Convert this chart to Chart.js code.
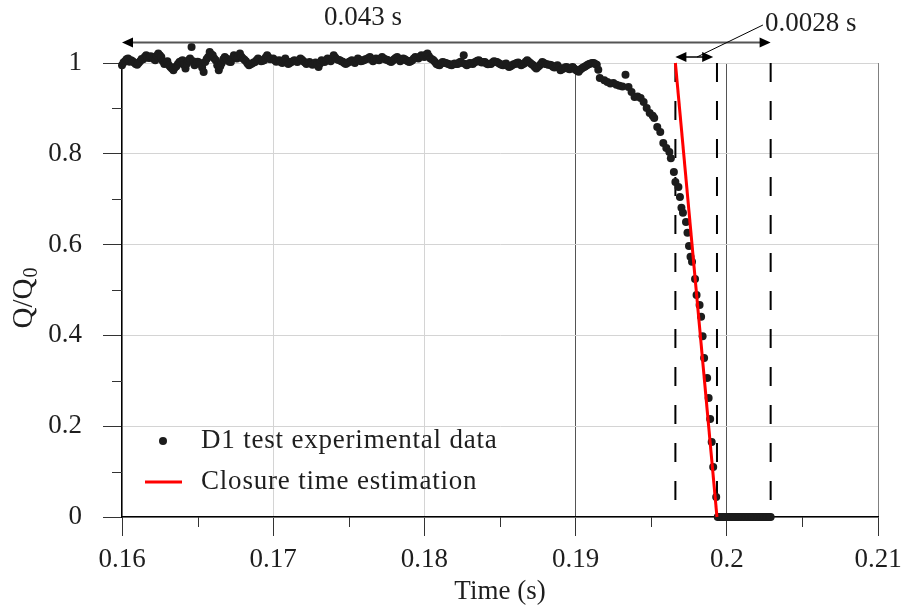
<!DOCTYPE html>
<html>
<head>
<meta charset="utf-8">
<script src="https://cdn.jsdelivr.net/npm/chart.js@4.4.0/dist/chart.umd.min.js"></script>
<style>
  html, body { margin: 0; padding: 0; background: #fff; }
</style>
</head>
<body>
<canvas id="closure" width="903" height="610"></canvas>
<script>
// D1 test: measured flow ratio Q/Q0 against time (s)
const timeS = [
  0.1600, 0.1601, 0.1602, 0.1603, 0.1604, 0.1605, 0.1606, 0.1607, 0.1608, 0.1609,
  0.1610, 0.1611, 0.1612, 0.1613, 0.1614, 0.1615, 0.1616, 0.1617, 0.1618, 0.1619,
  0.1620, 0.1621, 0.1622, 0.1623, 0.1624, 0.1625, 0.1626, 0.1627, 0.1628, 0.1629,
  0.1630, 0.1631, 0.1632, 0.1633, 0.1634, 0.1635, 0.1636, 0.1637, 0.1638, 0.1639,
  0.1640, 0.1641, 0.1642, 0.1643, 0.1644, 0.1645, 0.1646, 0.1647, 0.1648, 0.1649,
  0.1650, 0.1651, 0.1652, 0.1653, 0.1654, 0.1655, 0.1656, 0.1657, 0.1658, 0.1659,
  0.1660, 0.1661, 0.1662, 0.1663, 0.1664, 0.1665, 0.1666, 0.1667, 0.1668, 0.1669,
  0.1670, 0.1671, 0.1672, 0.1673, 0.1674, 0.1675, 0.1676, 0.1677, 0.1678, 0.1679,
  0.1680, 0.1681, 0.1682, 0.1683, 0.1684, 0.1685, 0.1686, 0.1687, 0.1688, 0.1689,
  0.1690, 0.1691, 0.1692, 0.1693, 0.1694, 0.1695, 0.1696, 0.1697, 0.1698, 0.1699,
  0.1700, 0.1701, 0.1702, 0.1703, 0.1704, 0.1705, 0.1706, 0.1707, 0.1708, 0.1709,
  0.1710, 0.1711, 0.1712, 0.1713, 0.1714, 0.1715, 0.1716, 0.1717, 0.1718, 0.1719,
  0.1720, 0.1721, 0.1722, 0.1723, 0.1724, 0.1725, 0.1726, 0.1727, 0.1728, 0.1729,
  0.1730, 0.1731, 0.1732, 0.1733, 0.1734, 0.1735, 0.1736, 0.1737, 0.1738, 0.1739,
  0.1740, 0.1741, 0.1742, 0.1743, 0.1744, 0.1745, 0.1746, 0.1747, 0.1748, 0.1749,
  0.1750, 0.1751, 0.1752, 0.1753, 0.1754, 0.1755, 0.1756, 0.1757, 0.1758, 0.1759,
  0.1760, 0.1761, 0.1762, 0.1763, 0.1764, 0.1765, 0.1766, 0.1767, 0.1768, 0.1769,
  0.1770, 0.1771, 0.1772, 0.1773, 0.1774, 0.1775, 0.1776, 0.1777, 0.1778, 0.1779,
  0.1780, 0.1781, 0.1782, 0.1783, 0.1784, 0.1785, 0.1786, 0.1787, 0.1788, 0.1789,
  0.1790, 0.1791, 0.1792, 0.1793, 0.1794, 0.1795, 0.1796, 0.1797, 0.1798, 0.1799,
  0.1800, 0.1801, 0.1802, 0.1803, 0.1804, 0.1805, 0.1806, 0.1807, 0.1808, 0.1809,
  0.1810, 0.1811, 0.1812, 0.1813, 0.1814, 0.1815, 0.1816, 0.1817, 0.1818, 0.1819,
  0.1820, 0.1821, 0.1822, 0.1823, 0.1824, 0.1825, 0.1826, 0.1827, 0.1828, 0.1829,
  0.1830, 0.1831, 0.1832, 0.1833, 0.1834, 0.1835, 0.1836, 0.1837, 0.1838, 0.1839,
  0.1840, 0.1841, 0.1842, 0.1843, 0.1844, 0.1845, 0.1846, 0.1847, 0.1848, 0.1849,
  0.1850, 0.1851, 0.1852, 0.1853, 0.1854, 0.1855, 0.1856, 0.1857, 0.1858, 0.1859,
  0.1860, 0.1861, 0.1862, 0.1863, 0.1864, 0.1865, 0.1866, 0.1867, 0.1868, 0.1869,
  0.1870, 0.1871, 0.1872, 0.1873, 0.1874, 0.1875, 0.1876, 0.1877, 0.1878, 0.1879,
  0.1880, 0.1881, 0.1882, 0.1883, 0.1884, 0.1885, 0.1886, 0.1887, 0.1888, 0.1889,
  0.1890, 0.1891, 0.1892, 0.1893, 0.1894, 0.1895, 0.1896, 0.1897, 0.1898, 0.1899,
  0.1900, 0.1901, 0.1902, 0.1903, 0.1904, 0.1905, 0.1906, 0.1907, 0.1908, 0.1909,
  0.1910, 0.1911, 0.1912, 0.1913, 0.1914,
  // valve closing
  0.1915, 0.1916, 0.1919, 0.1921, 0.1923, 0.1925, 0.1927, 0.1929, 0.1931, 0.1933,
  0.1935, 0.1937, 0.1939, 0.1941, 0.1943, 0.1945, 0.1947, 0.1949, 0.1951, 0.1952,
  0.1954, 0.1956, 0.1958, 0.1960, 0.1962, 0.1963, 0.1965, 0.1966, 0.1968, 0.1969,
  0.1970, 0.1971, 0.1973, 0.1974, 0.1975, 0.1976, 0.1977, 0.1979, 0.1980, 0.1982,
  0.1983, 0.1984, 0.1985, 0.1987, 0.1988, 0.1989, 0.1990, 0.1991, 0.1993, 0.1994,
  // closed
  0.1995, 0.1996, 0.1997, 0.1998, 0.1999, 0.2000, 0.2001, 0.2002, 0.2003, 0.2004,
  0.2005, 0.2006, 0.2007, 0.2008, 0.2009, 0.2010, 0.2011, 0.2012, 0.2013, 0.2014,
  0.2015, 0.2016, 0.2017, 0.2018, 0.2019, 0.2020, 0.2021, 0.2022, 0.2023, 0.2024,
  0.2025, 0.2026, 0.2027, 0.2028, 0.2029
]
const flowRatio = [
  0.995, 1.001, 1.004, 1.008, 1.010, 1.003, 1.006, 1.004, 1.001, 0.998,
  0.996, 1.000, 1.004, 1.009, 1.008, 1.013, 1.017, 1.012, 1.011, 1.015,
  1.013, 1.009, 1.006, 1.016, 1.021, 1.017, 1.013, 1.004, 0.998, 1.001,
  1.004, 0.995, 0.991, 0.988, 0.984, 0.990, 0.993, 0.998, 1.002, 1.004,
  1.006, 0.996, 0.988, 0.999, 1.006, 1.010, 1.035, 1.004, 0.995, 1.000,
  1.003, 1.001, 0.998, 0.990, 0.980, 1.002, 1.009, 1.013, 1.024, 1.019,
  1.017, 1.010, 1.006, 0.995, 0.984, 0.993, 1.000, 1.008, 1.013, 1.010,
  1.006, 1.003, 1.002, 1.010, 1.017, 1.013, 1.010, 1.016, 1.021, 1.014,
  1.010, 1.007, 1.004, 0.999, 0.995, 0.997, 0.999, 1.001, 1.002, 1.006,
  1.010, 1.007, 1.004, 1.005, 1.006, 1.012, 1.017, 1.012, 1.008, 1.009,
  1.010, 1.006, 1.003, 1.005, 1.006, 1.002, 1.000, 1.005, 1.010, 1.004,
  0.998, 1.000, 1.002, 1.004, 1.006, 1.004, 1.002, 1.006, 1.010, 1.007,
  1.004, 1.001, 0.998, 1.000, 1.002, 0.999, 0.996, 0.998, 1.001, 0.996,
  0.991, 0.999, 1.006, 1.004, 1.002, 1.006, 1.010, 1.007, 1.004, 1.010,
  1.017, 1.012, 1.008, 1.007, 1.006, 1.004, 1.003, 1.000, 0.998, 1.000,
  1.002, 1.004, 1.006, 1.003, 1.000, 1.005, 1.010, 1.007, 1.004, 1.005,
  1.006, 1.008, 1.009, 1.011, 1.013, 1.008, 1.004, 1.007, 1.010, 1.008,
  1.006, 1.010, 1.013, 1.010, 1.008, 1.007, 1.006, 1.004, 1.002, 1.005,
  1.008, 1.011, 1.013, 1.008, 1.004, 1.007, 1.010, 1.008, 1.006, 1.004,
  1.002, 1.004, 1.006, 1.010, 1.013, 1.011, 1.010, 1.014, 1.017, 1.015,
  1.013, 1.018, 1.021, 1.015, 1.010, 1.008, 1.006, 1.002, 0.998, 0.996,
  0.995, 0.999, 1.002, 1.001, 1.000, 0.999, 0.998, 0.996, 0.995, 0.997,
  0.999, 0.998, 0.998, 1.001, 1.003, 1.000, 1.017, 0.998, 0.995, 0.997,
  1.000, 0.999, 0.998, 1.001, 1.003, 1.005, 1.006, 1.003, 1.001, 1.002,
  1.002, 0.999, 0.997, 0.998, 0.998, 1.001, 1.004, 1.003, 1.002, 1.000,
  0.998, 0.996, 0.995, 0.997, 0.999, 0.994, 0.991, 0.993, 0.995, 0.997,
  0.998, 1.000, 1.001, 0.998, 0.995, 0.997, 0.999, 1.003, 1.006, 1.003,
  1.000, 0.997, 0.995, 0.991, 0.988, 0.991, 0.994, 0.998, 1.002, 1.000,
  0.998, 0.997, 0.996, 0.996, 0.995, 0.992, 0.990, 0.993, 0.995, 0.990,
  0.984, 0.986, 0.988, 0.990, 0.991, 0.988, 0.986, 0.989, 0.991, 0.988,
  0.985, 0.983, 0.981, 0.985, 0.988, 0.990, 0.992, 0.994, 0.996, 0.998,
  0.999, 1.000, 1.000, 0.998, 0.996,
  // valve closing
  0.985, 0.967, 0.962, 0.958, 0.955, 0.956, 0.952, 0.950, 0.948, 0.974,
  0.947, 0.936, 0.925, 0.926, 0.923, 0.914, 0.901, 0.890, 0.884, 0.879,
  0.859, 0.848, 0.824, 0.813, 0.804, 0.790, 0.760, 0.738, 0.727, 0.705,
  0.681, 0.670, 0.650, 0.626, 0.597, 0.573, 0.562, 0.524, 0.489, 0.467,
  0.441, 0.398, 0.350, 0.306, 0.262, 0.216, 0.165, 0.110, 0.044, 0.000,
  // closed
  0, 0, 0, 0, 0, 0, 0, 0, 0, 0,
  0, 0, 0, 0, 0, 0, 0, 0, 0, 0,
  0, 0, 0, 0, 0, 0, 0, 0, 0, 0,
  0, 0, 0, 0, 0
]

// straight-line closure estimate
const closureTime = [0.1966, 0.19935]
const closureFlow = [1, 0]

// dashed markers: closure start, closure end, end of the 0.043 s window
const markerTimes = [0.1966, 0.19935, 0.2029]

const seriesLabels = ['D1 test experimental data', 'Closure time estimation']

const xTickValues = [0.16, 0.17, 0.18, 0.19, 0.2, 0.21]
const xTickLabels = ['0.16', '0.17', '0.18', '0.19', '0.2', '0.21']
const yTickValues = [0, 0.2, 0.4, 0.6, 0.8, 1]
const yTickLabels = ['0', '0.2', '0.4', '0.6', '0.8', '1']
const xMinorTicks = [0.165, 0.175, 0.185, 0.195, 0.205]
const yMinorTicks = [0.1, 0.3, 0.5, 0.7, 0.9]

const FONT = "'Liberation Serif', 'Times New Roman', serif"
const INK = '#1e1e1e'

Chart.defaults.font.family = FONT
Chart.defaults.font.size = 27
Chart.defaults.color = INK

// the samples just above Q/Q0 = 1 sit over the top edge of the plot, keep drawing them
const basePointDraw = Chart.PointElement.prototype.draw
Chart.PointElement.prototype.draw = function (ctx) {
    basePointDraw.call(this, ctx, null)
}

const dots = timeS.map((t, i) => ({ x: t, y: flowRatio[i] }))
const redLine = closureTime.map((t, i) => ({ x: t, y: closureFlow[i] }))

const markerSets = markerTimes.map(t => ({
    type: 'line',
    data: [{ x: t, y: 1 }, { x: t, y: 0 }],
    borderColor: '#000',
    borderWidth: 2,
    borderDash: [19, 19],
    pointRadius: 0,
    order: 3
}))

function arrowHead(ctx, x, y, dir){
    ctx.beginPath()
    ctx.moveTo(x, y)
    ctx.lineTo(x - dir * 11, y - 5)
    ctx.lineTo(x - dir * 11, y + 5)
    ctx.closePath()
    ctx.fill()
}

// minor ticks, dimension arrows, legend and the y title
const extras = {
    id: 'extras',
    afterDraw(chart){
        const { ctx, chartArea: area } = chart
        const xs = chart.scales.x, ys = chart.scales.y
        ctx.save()

        ctx.strokeStyle = '#333'
        ctx.lineWidth = 1
        xMinorTicks.forEach(v => {
            const px = Math.round(xs.getPixelForValue(v)) + 0.5
            ctx.beginPath(); ctx.moveTo(px, area.bottom); ctx.lineTo(px, area.bottom + 10); ctx.stroke()
        })
        yMinorTicks.forEach(v => {
            const py = Math.round(ys.getPixelForValue(v)) + 0.5
            ctx.beginPath(); ctx.moveTo(area.left, py); ctx.lineTo(area.left - 10, py); ctx.stroke()
        })

        // 0.043 s window
        const yTop = ys.getPixelForValue(1.045)
        const xa = xs.getPixelForValue(0.16), xb = xs.getPixelForValue(markerTimes[2])
        ctx.strokeStyle = '#555'
        ctx.lineWidth = 2
        ctx.beginPath(); ctx.moveTo(xa + 6, yTop); ctx.lineTo(xb - 6, yTop); ctx.stroke()
        ctx.fillStyle = '#000'
        arrowHead(ctx, xa, yTop, -1)
        arrowHead(ctx, xb, yTop, 1)

        // 0.0028 s closure
        const yMid = ys.getPixelForValue(1.0132)
        const xc = xs.getPixelForValue(markerTimes[0]), xd = xs.getPixelForValue(0.1991)
        ctx.strokeStyle = '#000'
        ctx.lineWidth = 1.5
        ctx.beginPath(); ctx.moveTo(xc + 6, yMid); ctx.lineTo(xd - 6, yMid); ctx.stroke()
        arrowHead(ctx, xc, yMid, -1)
        arrowHead(ctx, xd, yMid, 1)
        ctx.lineWidth = 1
        ctx.beginPath()
        ctx.moveTo(xs.getPixelForValue(0.19803), yMid)
        ctx.lineTo(xs.getPixelForValue(0.20239), ys.getPixelForValue(1.0837))
        ctx.stroke()

        ctx.fillStyle = INK
        ctx.font = '27px ' + FONT
        ctx.textBaseline = 'middle'
        ctx.textAlign = 'center'
        ctx.fillText('0.043 s', xs.getPixelForValue(0.17594), ys.getPixelForValue(1.099))
        ctx.textAlign = 'left'
        ctx.fillText('0.0028 s', xs.getPixelForValue(0.20252), ys.getPixelForValue(1.0859))

        // legend
        const ds = chart.data.datasets
        ctx.fillStyle = ds[0].backgroundColor
        ctx.beginPath(); ctx.arc(163, 441, 4, 0, Math.PI * 2); ctx.fill()
        ctx.strokeStyle = ds[1].borderColor
        ctx.lineWidth = 3
        ctx.beginPath(); ctx.moveTo(145, 482); ctx.lineTo(182, 482); ctx.stroke()
        ctx.fillStyle = INK
        ctx.font = '27px ' + FONT
        ctx.letterSpacing = '0.8px'
        ctx.fillText(ds[0].label, 201, 441)
        ctx.fillText(ds[1].label, 201, 482)
        ctx.letterSpacing = '0px'

        // y title Q/Q0 with subscript
        ctx.translate(32, 298)
        ctx.rotate(-Math.PI / 2)
        ctx.textBaseline = 'alphabetic'
        ctx.font = '29px ' + FONT
        const w1 = ctx.measureText('Q/Q').width
        ctx.font = '20px ' + FONT
        const w2 = ctx.measureText('0').width
        const start = -(w1 + w2 + 1) / 2
        ctx.font = '29px ' + FONT
        ctx.fillText('Q/Q', start, 0)
        ctx.font = '20px ' + FONT
        ctx.fillText('0', start + w1 + 1, 5)

        ctx.restore()
    }
}

new Chart(document.getElementById('closure'), {
    type: 'scatter',
    data: {
        datasets: [
            {
                label: seriesLabels[0],
                data: dots,
                backgroundColor: '#1c1c1c',
                borderWidth: 0,
                pointRadius: 4,
                clip: false,
                order: 2
            },
            {
                label: seriesLabels[1],
                type: 'line',
                data: redLine,
                borderColor: '#ff0000',
                borderWidth: 3,
                pointRadius: 0,
                clip: false,
                order: 1
            },
            ...markerSets
        ]
    },
    options: {
        responsive: false,
        animation: false,
        devicePixelRatio: 1,
        layout: { padding: { top: 63, right: 25, bottom: 0, left: 0 } },
        plugins: {
            legend: { display: false },
            tooltip: { enabled: false }
        },
        scales: {
            x: {
                type: 'linear',
                min: 0.16,
                max: 0.21,
                afterBuildTicks: s => { s.ticks = xTickValues.map(v => ({ value: v })) },
                afterFit: s => { s.height = 93; s.paddingLeft = 0; s.paddingRight = 0 },
                ticks: {
                    padding: 8,
                    maxRotation: 0,
                    callback: (v, i) => xTickLabels[i]
                },
                grid: {
                    color: c => {
                        const v = c.tick ? c.tick.value : 0
                        if (v > 0.205) return '#808080'
                        if (v > 0.185) return '#555'
                        return '#d4d4d4'
                    },
                    tickColor: '#333',
                    tickLength: 19,
                    lineWidth: 1
                },
                border: { color: '#000', width: 1.5 },
                title: {
                    display: true,
                    text: 'Time (s)',
                    padding: { top: 0, bottom: 2 }
                }
            },
            y: {
                min: 0,
                max: 1,
                afterBuildTicks: s => { s.ticks = yTickValues.map(v => ({ value: v })) },
                afterFit: s => { s.width = 122 },
                ticks: {
                    padding: 21,
                    callback: (v, i) => yTickLabels[i]
                },
                grid: {
                    color: '#d4d4d4',
                    tickColor: '#333',
                    tickLength: 19,
                    lineWidth: 1
                },
                border: { color: '#000', width: 1.5 }
            }
        }
    },
    plugins: [extras]
})
</script>
</body>
</html>
